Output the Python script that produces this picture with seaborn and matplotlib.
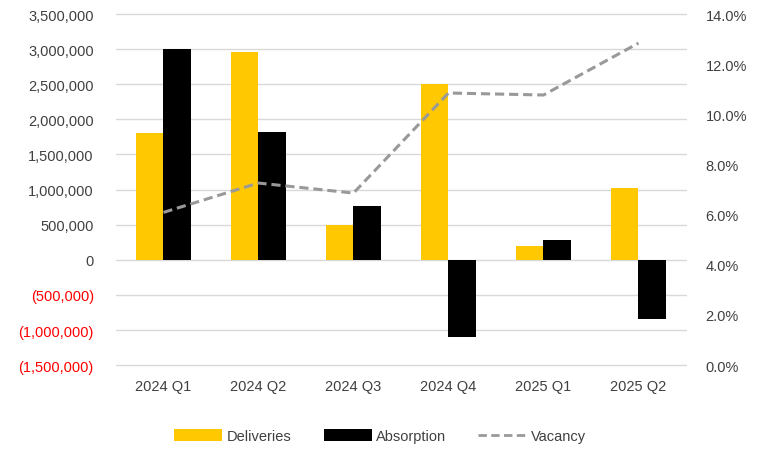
import numpy as np
import pandas as pd
import matplotlib
matplotlib.use("Agg")
import matplotlib.pyplot as plt
import seaborn as sns
from matplotlib.patches import Patch
from matplotlib.lines import Line2D
from matplotlib.ticker import FuncFormatter

quarters = ["2024 Q1", "2024 Q2", "2024 Q3", "2024 Q4", "2025 Q1", "2025 Q2"]
deliveries = [1800000, 2960000, 500000, 2500000, 200000, 1020000]
absorption = [3000000, 1820000, 765000, -1100000, 285000, -840000]
vacancy = [0.0609, 0.0726, 0.0686, 0.1085, 0.1077, 0.1284]

yellow = "#FFC800"
black = "#000000"
grey = "#999999"
text_col = "#404040"

sns.set_theme(style="white")
plt.rcParams["font.family"] = ["Liberation Sans", "DejaVu Sans"]
plt.rcParams["font.size"] = 10.5

df = pd.DataFrame({
    "quarter": quarters * 2,
    "value": deliveries + absorption,
    "series": ["Deliveries"] * len(quarters) + ["Absorption"] * len(quarters),
})

fig = plt.figure(figsize=(7.6, 4.52), dpi=100)
ax = fig.add_axes([0.1526, 0.19, 0.75, 0.7768])

sns.barplot(data=df, x="quarter", y="value", hue="series", order=quarters,
            palette=[yellow, black], saturation=1, errorbar=None,
            width=0.57, gap=0, legend=False, linewidth=0, ax=ax)

ax.set_ylim(-1500000, 3500000)
ax.set_yticks(np.arange(-1500000, 3500001, 500000))
ax.set_xlim(-0.5, len(quarters) - 0.5)
ax.yaxis.set_major_formatter(FuncFormatter(
    lambda v, p: f"({abs(v):,.0f})" if v < 0 else f"{v:,.0f}"))
ax.grid(axis="y", color="#d9d9d9", linewidth=1)
for gl in ax.get_ygridlines():
    gl.set_clip_on(False)
ax.set_axisbelow(True)
for s in ax.spines.values():
    s.set_visible(False)
ax.set_xlabel("")
ax.set_ylabel("")
ax.tick_params(axis="y", length=0, pad=16, labelcolor=text_col, labelsize=10.5)
ax.tick_params(axis="x", length=0, pad=10, labelcolor=text_col, labelsize=10.5)
for v, lab in zip(ax.get_yticks(), ax.get_yticklabels()):
    if v < 0:
        lab.set_color("#FF0000")

ax2 = ax.twinx()
sns.lineplot(x=np.arange(len(quarters)), y=vacancy, ax=ax2, color=grey,
             linewidth=2.2, linestyle=(0, (3, 1.6)))
ax2.set_ylim(0, 0.14)
ax2.set_yticks(np.arange(0, 0.1401, 0.02))
ax2.yaxis.set_major_formatter(FuncFormatter(lambda v, p: f"{v * 100:.1f}%"))
ax2.tick_params(axis="y", length=0, pad=14, labelcolor=text_col, labelsize=10.5)
ax2.grid(False)
for s in ax2.spines.values():
    s.set_visible(False)
ax2.set_xlim(-0.5, len(quarters) - 0.5)

handles = [Patch(facecolor=yellow, edgecolor="none", label="Deliveries"),
           Patch(facecolor=black, edgecolor="none", label="Absorption"),
           Line2D([0], [0], color=grey, linewidth=2, linestyle=(0, (3, 1.6)), label="Vacancy")]
leg = fig.legend(handles=handles, loc="center", bbox_to_anchor=(0.5, 0.033), ncol=3,
                 frameon=False, fontsize=10.5, handlelength=3.3, handleheight=0.8,
                 columnspacing=2.2, handletextpad=0.3)
for t in leg.get_texts():
    t.set_color(text_col)

fig.savefig("out.png", dpi=100)
